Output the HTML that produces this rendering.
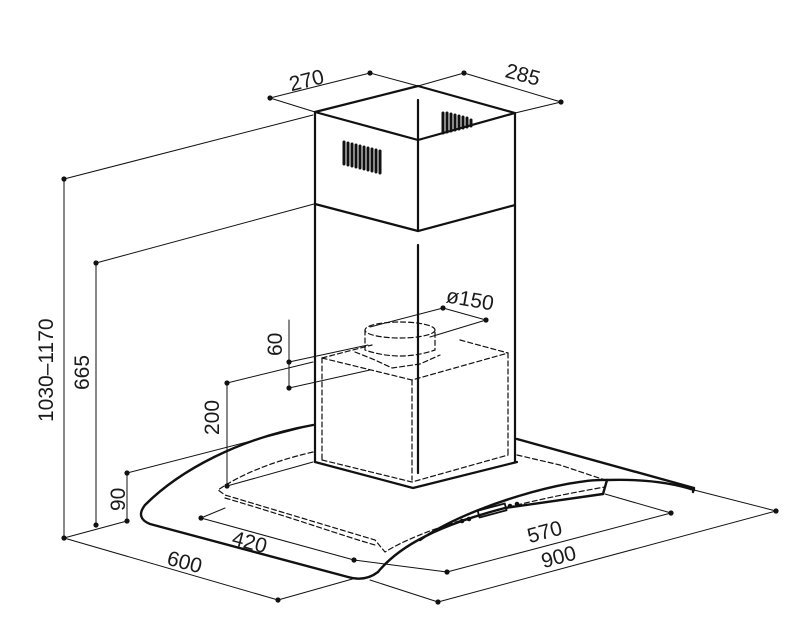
<!DOCTYPE html>
<html><head><style>
html,body{margin:0;padding:0;background:#fff;}
svg{display:block}
text{font-family:"Liberation Sans",sans-serif;font-size:21px;fill:#1a1a1a;}
</style></head><body>
<svg width="800" height="627" viewBox="0 0 800 627" xmlns="http://www.w3.org/2000/svg">
<g fill="none" stroke="#111" stroke-linecap="round" stroke-linejoin="round">
<g stroke-width="2.2">
<path d="M315,112 L418,86 L515,113 L418,140 Z"/>
<path d="M418,140 L418,231"/>
<path d="M315,112 V462 M515,113 V462"/>
<path d="M315,204 L418,231 L515,205"/>
<path d="M418,245 V473"/>
<path d="M418,100 V140" />
<path d="M315,462 L413,488 L517,462"/>
</g>
<g stroke-width="3">
<path d="M344,142v22M348,143v22M352,144v22M356,145v22M360,146v22M364,147v22M368,148v22M372,149v22M376,150v22M380,151v22"/>
<path d="M443,113v20M447,113v19M451,114v17M455,115v15M459,116v13M463,117v11M467,118v9M471,120v6"/>
</g>
<g stroke-width="2.4">
<path d="M313,425 C240,438 180,470 145,505 Q135,518 150,524 L348,577 Q365,582 378,572 C400,545 440,525 505,508 L603,494 L607,480 C570,478 470,505 420,540"/>
<path d="M517,439 L694,488 L693,492"/>
<path d="M607,480 C640,479 670,482 694,490"/>
<rect x="478" y="507" width="28" height="7" transform="rotate(-15 492 510)" stroke-width="1.8"/>
</g>
<g fill="#111" stroke="none">
<circle cx="462" cy="521" r="2.3"/><circle cx="469" cy="519" r="2.3"/>
<circle cx="510" cy="506" r="2.3"/><circle cx="517" cy="504" r="2.3"/>
</g>
<g stroke-width="1.2" stroke-dasharray="5,3">
<path d="M322,358 L412,380 L508,353"/>
<path d="M322,358 V460 M412,380 V480 M508,353 V455"/>
<path d="M322,358 L372,345 M460,340 L508,353"/>
<path d="M322,460 L412,482 L508,455"/>
<path d="M313,452 C270,462 240,475 218,490 L225,495 L375,540 L385,552 C420,530 500,505 605,487"/>
<path d="M517,455 L560,465 L605,480"/>
<path d="M225,498 C300,520 340,535 375,545"/>
<ellipse cx="400" cy="330" rx="35" ry="8"/>
<path d="M365,330 V350 Q400,362 435,350 V330"/>
<path d="M355,352 L375,360 L392,368 L420,364 L440,355"/>
</g>
<g stroke-width="1">
<path d="M270,98 L370,73 M270,98 L315,112 M370,73 L418,86"/>
<path d="M464,73 L561,102 M464,73 L418,86 M561,102 L515,113"/>
<path d="M64,179 V538 M64,179 L313,115"/>
<path d="M96,263 V525 M96,263 L314,204"/>
<path d="M64,538 L278,600 L356,578"/>
<path d="M438,602 L776,511 L694,490"/>
<path d="M438,602 L370,580"/>
<path d="M447,572 L671,513 L605,494"/>
<path d="M201,518 L354,560 L447,572 M201,518 L225,508"/>
<path d="M127,473 V521 M127,473 L313,425 M127,521 L64,538"/>
<path d="M227,383 V486 M227,383 L313,362 M227,486 L313,462"/>
<path d="M289,320 V388 M289,362 L368,345 M289,388 L370,370"/>
<path d="M443,308 L486,320 M443,308 L370,327 M486,320 L430,337"/>
</g>
<g fill="#111" stroke="none">
<circle cx="270" cy="98" r="2.6"/><circle cx="370" cy="73" r="2.6"/>
<circle cx="464" cy="73" r="2.6"/><circle cx="561" cy="102" r="2.6"/>
<circle cx="64" cy="179" r="2.6"/><circle cx="64" cy="538" r="2.6"/>
<circle cx="96" cy="263" r="2.6"/><circle cx="96" cy="525" r="2.6"/>
<circle cx="127" cy="473" r="2.6"/><circle cx="127" cy="521" r="2.6"/>
<circle cx="227" cy="383" r="2.6"/><circle cx="227" cy="486" r="2.6"/>
<circle cx="289" cy="362" r="2.6"/><circle cx="289" cy="388" r="2.6"/>
<circle cx="443" cy="308" r="2.6"/><circle cx="486" cy="320" r="2.6"/>
<circle cx="278" cy="600" r="2.6"/><circle cx="438" cy="602" r="2.6"/>
<circle cx="776" cy="511" r="2.6"/><circle cx="671" cy="513" r="2.6"/>
<circle cx="447" cy="572" r="2.6"/><circle cx="201" cy="518" r="2.6"/>
<circle cx="354" cy="560" r="2.6"/>
</g>
</g>
<text x="289" y="87" transform="rotate(-14 308 80)">270</text>
<text x="505" y="82" transform="rotate(15 524 76)">285</text>
<text x="0" y="0" transform="translate(53,422) rotate(-90)">1030–1170</text>
<text x="0" y="0" transform="translate(89,390) rotate(-90)">665</text>
<text x="0" y="0" transform="translate(219,435) rotate(-90)">200</text>
<text x="0" y="0" transform="translate(282,356) rotate(-90)">60</text>
<text x="0" y="0" transform="translate(125,511) rotate(-90)">90</text>
<text x="446" y="306" transform="rotate(10 467 300)">ø150</text>
<text x="167" y="570" transform="rotate(15 188 563)">600</text>
<text x="232" y="550" transform="rotate(15 253 543)">420</text>
<text x="527" y="538" transform="rotate(-15 548 531)">570</text>
<text x="541" y="563" transform="rotate(-15 562 556)">900</text>
</svg>
</body></html>
